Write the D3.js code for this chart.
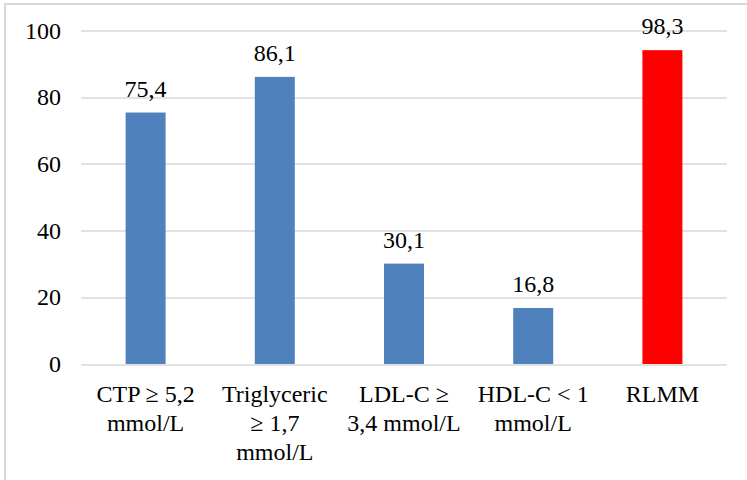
<!DOCTYPE html>
<html>
<head>
<meta charset="utf-8">
<script src="https://cdn.jsdelivr.net/npm/d3@7"></script>
<style>
  body { margin: 0; background: #fff; }
</style>
</head>
<body>
<div id="chart"></div>
<script>
// chart data
var categories = ["CTP", "Triglyceric", "LDL-C", "HDL-C", "RLMM"];
var categoryLines = [
    ["CTP \u2265 5,2", "mmol/L"],
    ["Triglyceric", "\u2265 1,7", "mmol/L"],
    ["LDL-C \u2265", "3,4 mmol/L"],
    ["HDL-C < 1", "mmol/L"],
    ["RLMM"]
];
// bar heights as drawn (the red bar is drawn lower than its label)
var barValues = [75.4, 86.1, 30.1, 16.8, 94.1];
var valueLabels = ["75,4", "86,1", "30,1", "16,8", "98,3"];
var barColors = ["#4F81BD", "#4F81BD", "#4F81BD", "#4F81BD", "#FF0000"];
var yTicks = [0, 20, 40, 60, 80, 100];

(function() {
    var W = 747, H = 480;
    var FONT = "'Liberation Serif', 'Times New Roman', 'DejaVu Serif', serif";
    var margin = {top: 30.5, right: 20, bottom: 116, left: 81};
    var width = W - margin.left - margin.right,
        height = H - margin.top - margin.bottom;

    var svg = d3.select("#chart").append("svg")
        .attr("width", W).attr("height", H)
        .style("font-family", FONT)
        .style("font-size", "24px");

    // cropped frame: only top and left edges show
    svg.append("line").attr("x1", 4).attr("x2", W).attr("y1", 4).attr("y2", 4)
        .attr("stroke", "#d9d9d9").attr("stroke-width", 2);
    svg.append("line").attr("x1", 5).attr("x2", 5).attr("y1", 3).attr("y2", H)
        .attr("stroke", "#d9d9d9").attr("stroke-width", 2);

    var g = svg.append("g")
        .attr("transform", "translate(" + margin.left + "," + margin.top + ")");

    var xScale = d3.scaleBand().domain(categories).range([0, width]);
    var yScale = d3.scaleLinear().domain([0, 100]).range([height, 0]);

    // gridlines
    g.append("g").selectAll("line").data(yTicks).enter().append("line")
        .attr("x1", 0).attr("x2", width)
        .attr("y1", function(d) { return Math.round(yScale(d)) + 0.5; })
        .attr("y2", function(d) { return Math.round(yScale(d)) + 0.5; })
        .attr("stroke", "#d9d9d9").attr("stroke-width", 1.3);

    // y axis labels
    var yAxis = d3.axisLeft(yScale).tickValues(yTicks).tickSize(0).tickPadding(20);
    var ya = g.append("g").call(yAxis)
        .attr("font-family", null).attr("font-size", null);
    ya.select(".domain").remove();
    ya.selectAll("text").style("font-family", FONT).style("font-size", "24px").attr("fill", "#000");

    // bars
    var barWidth = 40;
    g.selectAll(".bar").data(barValues).enter().append("rect")
        .attr("x", function(d, i) { return xScale(categories[i]) + xScale.bandwidth() / 2 - barWidth / 2; })
        .attr("y", function(d) { return yScale(d); })
        .attr("width", barWidth)
        .attr("height", function(d) { return height - yScale(d); })
        .attr("fill", function(d, i) { return barColors[i]; });

    // value labels
    g.selectAll(".val").data(barValues).enter().append("text")
        .attr("x", function(d, i) { return xScale(categories[i]) + xScale.bandwidth() / 2; })
        .attr("y", function(d) { return yScale(d) - 16; })
        .attr("text-anchor", "middle")
        .style("font-family", FONT)
        .text(function(d, i) { return valueLabels[i]; });

    // category labels
    var cats = g.selectAll(".cat").data(categories).enter().append("text")
        .attr("text-anchor", "middle")
        .style("font-family", FONT)
        .attr("transform", function(d) {
            return "translate(" + (xScale(d) + xScale.bandwidth() / 2) + "," + (height + 38) + ")";
        });
    cats.each(function(d, i) {
        var t = d3.select(this);
        categoryLines[i].forEach(function(line, k) {
            t.append("tspan").attr("x", 0).attr("y", k * 29).text(line);
        });
    });
})();
</script>
</body>
</html>
